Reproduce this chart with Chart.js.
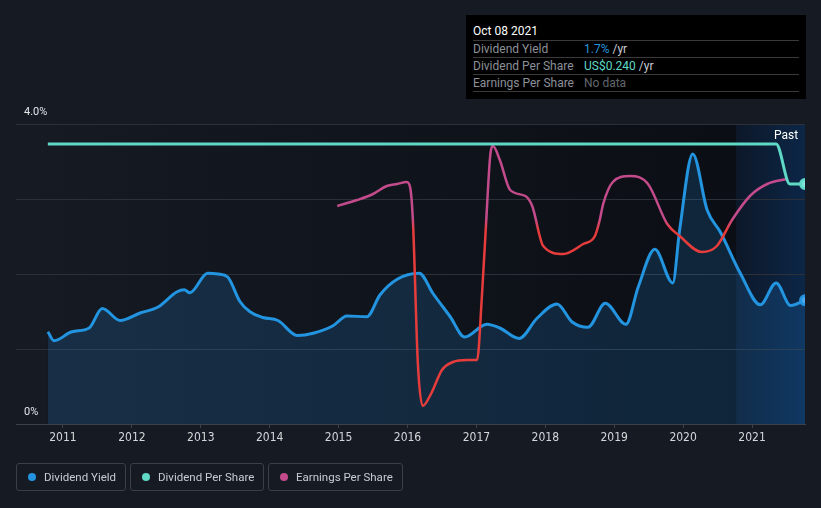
<!DOCTYPE html>
<html lang="en">
<head>
<meta charset="UTF-8">
<title>Dividend Yield vs Dividend Per Share vs Earnings Per Share</title>
<script src="https://cdn.jsdelivr.net/npm/chart.js"></script>
<style>
    html, body { margin: 0; padding: 0; background: #151a23; }
    #wrap { position: relative; width: 821px; height: 508px; font-family: Roboto, "Noto Sans", sans-serif; }
    #wrap canvas { position: absolute; left: 0; top: 0; }
    .tip { position: absolute; left: 466px; top: 15px; width: 340px; height: 84px; background: #000; box-sizing: border-box; padding: 0 7px; font-size: 12px; }
    .tip .title { color: #fff; height: 25px; line-height: 32px; border-bottom: 1px solid #3a3a3a; }
    .tip .row { height: 16px; line-height: 16px; border-bottom: 1px solid #3a3a3a; color: #8c9098; position: relative; }
    .tip .row span.v { position: absolute; left: 111px; }
    .past { position: absolute; left: 774px; top: 128px; color: #fff; font-size: 12px; }
    .legend { position: absolute; top: 463px; height: 28px; box-sizing: border-box; border: 1px solid #3a3f48; border-radius: 3px; color: #c8ccd2; font-size: 11.5px; line-height: 26px; padding-left: 27px; white-space: nowrap; }
    .legend i { position: absolute; left: 11px; top: 9px; width: 8px; height: 8px; border-radius: 50%; }
</style>
</head>
<body>
<div id="wrap">
    <canvas id="chart"></canvas>
    <div class="past">Past</div>
    <div class="tip">
        <div class="title">Oct 08 2021</div>
        <div class="row">Dividend Yield<span class="v"><span style="color:#2394df">1.7%</span> <span style="color:#c8ccd2">/yr</span></span></div>
        <div class="row">Dividend Per Share<span class="v"><span style="color:#5fd9c6">US$0.240</span> <span style="color:#c8ccd2">/yr</span></span></div>
        <div class="row">Earnings Per Share<span class="v" style="color:#62666d">No data</span></div>
    </div>
    <div class="legend" style="left:16px;width:110px"><i style="background:#2394df"></i>Dividend Yield</div>
    <div class="legend" style="left:130px;width:134px"><i style="background:#5fd9c6"></i>Dividend Per Share</div>
    <div class="legend" style="left:268px;width:135px"><i style="background:#c34b8c"></i>Earnings Per Share</div>
</div>

<script>
    // x values are decimal years
    const xTickYears = [2011, 2012, 2013, 2014, 2015, 2016, 2017, 2018, 2019, 2020, 2021];
    const yTickValues = [0, 1, 2, 3, 4];

    // Dividend yield (%)
    const yieldYears = [2010.78, 2010.87, 2011.13, 2011.38, 2011.57, 2011.83, 2012.12, 2012.38, 2012.65, 2012.76, 2012.84,
        2013.10, 2013.25, 2013.39, 2013.57, 2013.71, 2013.90, 2014.12, 2014.40, 2014.63, 2014.92, 2015.12, 2015.41,
        2015.60, 2015.85, 2016.17, 2016.37, 2016.62, 2016.83, 2017.15, 2017.34, 2017.62, 2017.88, 2018.17, 2018.39,
        2018.62, 2018.87, 2019.17, 2019.35, 2019.59, 2019.85, 2019.95, 2020.14, 2020.35, 2020.54, 2020.83, 2021.12,
        2021.35, 2021.56, 2021.77];
    const yieldValues = [1.23, 1.11, 1.23, 1.28, 1.54, 1.38, 1.48, 1.56, 1.76, 1.79, 1.75,
        2.01, 2.00, 1.96, 1.63, 1.50, 1.42, 1.38, 1.18, 1.21, 1.31, 1.44, 1.43,
        1.72, 1.93, 2.01, 1.74, 1.43, 1.16, 1.33, 1.28, 1.14, 1.41, 1.60, 1.36,
        1.29, 1.61, 1.33, 1.83, 2.33, 1.88, 2.59, 3.60, 2.85, 2.56, 2.01, 1.59,
        1.88, 1.58, 1.65];

    // Dividend per share (US$)
    const dpsYears = [2010.78, 2021.35, 2021.55, 2021.77];
    const dpsValues = [0.28, 0.28, 0.24, 0.24];

    // Earnings per share (US$)
    const epsYears = [2014.98, 2015.27, 2015.50, 2015.70, 2015.85, 2015.99, 2016.04, 2016.08, 2016.15, 2016.22, 2016.34,
        2016.50, 2016.66, 2016.86, 2017.01, 2017.08, 2017.14, 2017.20, 2017.24, 2017.34, 2017.49, 2017.71, 2017.81,
        2017.97, 2018.26, 2018.55, 2018.72, 2018.79, 2018.84, 2018.98, 2019.23, 2019.49, 2019.77, 2019.95, 2020.27,
        2020.49, 2020.71, 2020.97, 2021.22, 2021.51];
    const epsValues = [0.09, 0.12, 0.15, 0.19, 0.20, 0.21, 0.18, 0.005, -0.695, -0.91, -0.85,
        -0.73, -0.69, -0.68, -0.68, -0.36, 0.0, 0.34, 0.39, 0.32, 0.17, 0.14, 0.09,
        -0.11, -0.15, -0.10, -0.06, 0.02, 0.10, 0.21, 0.24, 0.20, 0.00, -0.06, -0.14,
        -0.11, 0.02, 0.14, 0.20, 0.225];

    const xMin = 2010.318, xMax = 2021.769, pastStart = 2020.77;

    function pts(xs, ys) {
        return xs.map((x, i) => ({ x: x, y: ys[i] }));
    }
    function lastOnly(n, r) {
        return Array.from({ length: n }, (_, i) => i === n - 1 ? r : 0);
    }

    const background = {
        id: 'background',
        beforeDraw(chart) {
            const { ctx, chartArea: a, scales } = chart;
            const x0 = scales.x.getPixelForValue(yieldYears[0]);
            const xp = scales.x.getPixelForValue(pastStart);
            ctx.save();
            let g = ctx.createLinearGradient(x0, 0, xp, 0);
            g.addColorStop(0, '#151a23');
            g.addColorStop(1, '#0b0e14');
            ctx.fillStyle = g;
            ctx.fillRect(x0, a.top, xp - x0, a.bottom - a.top);
            g = ctx.createLinearGradient(xp, 0, a.right, 0);
            g.addColorStop(0, '#0d1829');
            g.addColorStop(1, '#0c2647');
            ctx.fillStyle = g;
            ctx.fillRect(xp, a.top, a.right - xp, a.bottom - a.top);
            ctx.restore();
        }
    };

    function epsColor(context) {
        const chart = context.chart;
        const a = chart.chartArea;
        if (!a) return '#c34b8c';
        const y0 = chart.scales.yEps.getPixelForValue(0);
        const f = Math.min(Math.max((y0 - a.top) / (a.bottom - a.top), 0.03), 0.97);
        const g = chart.ctx.createLinearGradient(0, a.top, 0, a.bottom);
        g.addColorStop(0, '#c34b8c');
        g.addColorStop(f - 0.02, '#c34b8c');
        g.addColorStop(f + 0.02, '#e63c3c');
        g.addColorStop(1, '#e63c3c');
        return g;
    }

    new Chart(document.getElementById('chart'), {
        type: 'line',
        data: {
            datasets: [
                {
                    label: 'Dividend Per Share',
                    data: pts(dpsYears, dpsValues),
                    yAxisID: 'yDps',
                    borderColor: '#5fd9c6',
                    borderWidth: 3,
                    pointRadius: lastOnly(dpsYears.length, 4.5),
                    pointBackgroundColor: '#7fe6da',
                    pointBorderColor: '#5fd9c6',
                    cubicInterpolationMode: 'monotone',
                    fill: false,
                    order: 1
                },
                {
                    label: 'Earnings Per Share',
                    data: pts(epsYears, epsValues),
                    yAxisID: 'yEps',
                    borderColor: epsColor,
                    borderWidth: 2.5,
                    pointRadius: 0,
                    cubicInterpolationMode: 'monotone',
                    fill: false,
                    order: 2
                },
                {
                    label: 'Dividend Yield',
                    data: pts(yieldYears, yieldValues),
                    yAxisID: 'y',
                    borderColor: '#2394df',
                    borderWidth: 3,
                    backgroundColor: 'rgba(35, 130, 210, 0.2)',
                    pointRadius: lastOnly(yieldYears.length, 4.5),
                    pointBackgroundColor: '#4eaaf0',
                    pointBorderColor: '#2394df',
                    cubicInterpolationMode: 'monotone',
                    fill: 'origin',
                    order: 3
                }
            ]
        },
        options: {
            responsive: true,
            maintainAspectRatio: false,
            animation: false,
            events: [],
            layout: { padding: { top: 124, left: 16, right: 16, bottom: 0 } },
            plugins: { legend: { display: false }, tooltip: { enabled: false } },
            scales: {
                x: {
                    type: 'linear',
                    min: xMin,
                    max: xMax,
                    afterBuildTicks: (s) => { s.ticks = xTickYears.map(v => ({ value: v })); },
                    afterFit: (s) => { s.height = 84; },
                    grid: { drawOnChartArea: false, drawTicks: true, tickLength: 4, color: '#3d424a' },
                    border: { color: '#3d424a' },
                    ticks: {
                        color: '#d5d7da',
                        padding: 3,
                        maxRotation: 0,
                        autoSkip: false,
                        font: { family: '"Liberation Sans Narrow", "DejaVu Sans Condensed", Roboto', size: 12 },
                        callback: (v) => String(v)
                    }
                },
                y: {
                    min: 0,
                    max: 4,
                    afterBuildTicks: (s) => { s.ticks = yTickValues.map(v => ({ value: v })); },
                    afterFit: (s) => { s.width = 0; },
                    grid: { color: '#2c3139', drawTicks: false },
                    border: { display: false },
                    ticks: {
                        mirror: true,
                        padding: 8,
                        labelOffset: -12,
                        color: '#e4e6e9',
                        font: { family: 'Roboto', size: 11 },
                        callback: (v) => v === 0 ? '0%' : (v === 4 ? '4.0%' : '')
                    }
                },
                yDps: { display: false, min: 0, max: 0.3 },
                yEps: { display: false, min: -1, max: 0.5 }
            }
        },
        plugins: [background]
    });
</script>
</body>
</html>
